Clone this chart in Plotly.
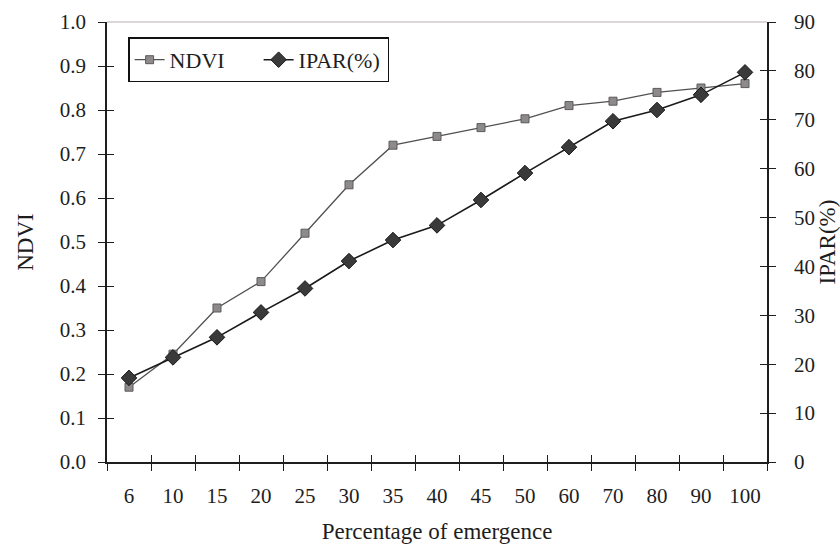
import plotly.graph_objects as go

# Emergence classes (%), NDVI and intercepted PAR (%) per class
emergence = ["6", "10", "15", "20", "25", "30", "35", "40", "45", "50", "60", "70", "80", "90", "100"]
ndvi = [0.17, 0.245, 0.35, 0.41, 0.52, 0.63, 0.72, 0.74, 0.76, 0.78, 0.81, 0.82, 0.84, 0.85, 0.86]
ipar = [17.2, 21.4, 25.5, 30.6, 35.5, 41.1, 45.4, 48.4, 53.6, 59.1, 64.4, 69.7, 72.0, 75.1, 79.7]

ndvi_ticks = [0.0, 0.1, 0.2, 0.3, 0.4, 0.5, 0.6, 0.7, 0.8, 0.9, 1.0]
ipar_ticks = [0, 10, 20, 30, 40, 50, 60, 70, 80, 90]

FONT = "Times New Roman, Liberation Serif, serif"
INK = "#1e1e1e"

fig = go.Figure()

fig.add_trace(go.Scatter(
    x=emergence, y=ndvi, name="NDVI", mode="lines+markers",
    line=dict(color="#505050", width=1.3),
    marker=dict(symbol="square", size=8, color="#8e8a8c", line=dict(color="#5a5a5a", width=1)),
    xaxis="x", yaxis="y",
))
fig.add_trace(go.Scatter(
    x=emergence, y=ipar, name="IPAR(%)", mode="lines+markers",
    line=dict(color="#1a1a1a", width=1.6),
    marker=dict(symbol="diamond", size=12, color="#3a3a3a", line=dict(color="#1a1a1a", width=1)),
    xaxis="x", yaxis="y2",
))
# invisible carriers for the inner tick half of each axis
fig.add_trace(go.Scatter(x=emergence, y=ndvi, mode="lines", line=dict(width=0),
                         showlegend=False, hoverinfo="skip", xaxis="x2", yaxis="y3"))
fig.add_trace(go.Scatter(x=emergence, y=ipar, mode="lines", line=dict(width=0),
                         showlegend=False, hoverinfo="skip", xaxis="x2", yaxis="y4"))

tick_font = dict(family=FONT, size=21, color=INK)
title_font = dict(family=FONT, size=23, color=INK)

fig.update_layout(
    width=840, height=548,
    margin=dict(l=107, r=73, t=22, b=86),
    paper_bgcolor="white", plot_bgcolor="white",
    font=tick_font,
    showlegend=True,
    legend=dict(
        orientation="h", x=0.032, y=0.965, xanchor="left", yanchor="top",
        bordercolor="#111111", borderwidth=1.5, bgcolor="white",
        font=dict(family=FONT, size=22, color=INK),
        itemwidth=30, entrywidth=84, tracegroupgap=0,
    ),
    xaxis=dict(
        type="category", categoryorder="array", categoryarray=emergence,
        tickson="boundaries", ticks="outside", ticklen=7, tickwidth=1.3, tickcolor=INK,
        showline=True, linecolor=INK, linewidth=1.5, showgrid=False, zeroline=False,
        tickfont=tick_font, ticklabelstandoff=14, automargin=False,
        title=dict(text="Percentage of emergence", font=title_font, standoff=16),
        range=[-0.5, 14.5],
    ),
    xaxis2=dict(
        type="category", categoryorder="array", categoryarray=emergence,
        overlaying="x", anchor="y", side="bottom", automargin=False,
        tickson="boundaries", ticks="inside", ticklen=7, tickwidth=1.3, tickcolor=INK,
        showticklabels=False, showline=False, showgrid=False, zeroline=False,
        range=[-0.5, 14.5],
    ),
    yaxis=dict(
        range=[0, 1.0], tickvals=ndvi_ticks, tickformat=".1f",
        ticks="outside", ticklen=7, tickwidth=1.3, tickcolor=INK,
        showline=True, linecolor=INK, linewidth=1.5, showgrid=False, zeroline=False,
        tickfont=tick_font, ticklabelstandoff=8, automargin=False,
        title=dict(text="NDVI", font=title_font, standoff=20),
    ),
    yaxis2=dict(
        range=[0, 90], tickvals=ipar_ticks, overlaying="y", side="right", anchor="x",
        ticks="outside", ticklen=7, tickwidth=1.3, tickcolor=INK,
        showline=True, linecolor=INK, linewidth=1.5, showgrid=False, zeroline=False,
        tickfont=tick_font, ticklabelstandoff=14, automargin=False,
        title=dict(text="IPAR(%)", font=title_font, standoff=10),
    ),
    yaxis3=dict(
        range=[0, 1.0], tickvals=ndvi_ticks, overlaying="y", side="left", anchor="x2",
        ticks="inside", ticklen=7, tickwidth=1.3, tickcolor=INK, automargin=False,
        showticklabels=False, showline=False, showgrid=False, zeroline=False,
    ),
    yaxis4=dict(
        range=[0, 90], tickvals=ipar_ticks, overlaying="y", side="right", anchor="x2",
        ticks="inside", ticklen=7, tickwidth=1.3, tickcolor=INK, automargin=False,
        showticklabels=False, showline=False, showgrid=False, zeroline=False,
    ),
)

# thin top frame line of the plotting area
fig.add_shape(type="line", xref="paper", yref="paper", x0=0, x1=1, y0=1, y1=1,
              line=dict(color="#b8aeb4", width=1.2))

fig.write_html("out.html")
